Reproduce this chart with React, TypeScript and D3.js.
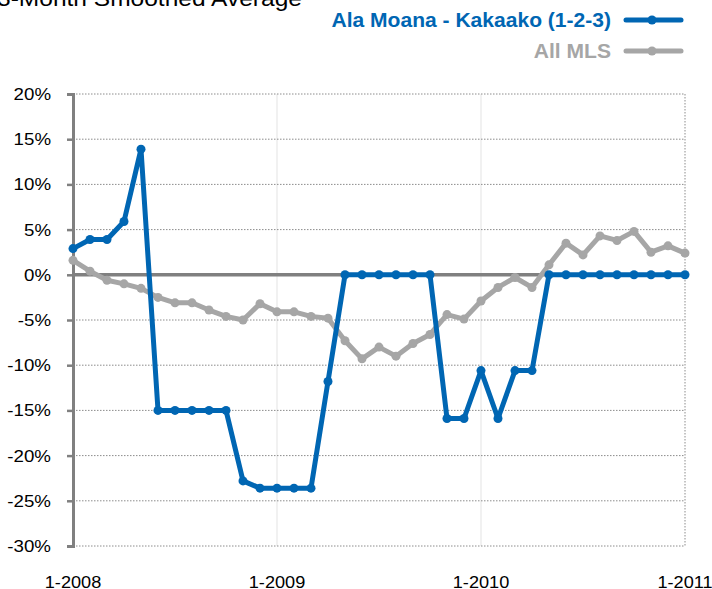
import React, { useRef, useEffect } from "react";
import * as d3 from "d3";

// monthly points, 1-2008 .. 1-2011
const months = d3.range(0, 37);
const alaMoana = [
  2.9, 3.9, 3.9, 5.9, 13.9, -15.0, -15.0, -15.0, -15.0, -15.0,
  -22.8, -23.6, -23.6, -23.6, -23.6, -11.8, 0, 0, 0, 0,
  0, 0, -15.9, -15.9, -10.6, -15.9, -10.6, -10.6, 0, 0,
  0, 0, 0, 0, 0, 0, 0,
];
const allMls = [
  1.6, 0.4, -0.6, -1.0, -1.5, -2.5, -3.1, -3.1, -3.9, -4.6,
  -5.0, -3.2, -4.1, -4.1, -4.6, -4.8, -7.3, -9.3, -8.0, -9.0,
  -7.6, -6.6, -4.4, -4.9, -2.9, -1.4, -0.3, -1.4, 1.1, 3.5,
  2.2, 4.3, 3.8, 4.8, 2.5, 3.2, 2.4,
];
const yTicks = [20, 15, 10, 5, 0, -5, -10, -15, -20, -25, -30];
const xTicks = [0, 12, 24, 36];
const xTickLabels = ["1-2008", "1-2009", "1-2010", "1-2011"];

const BLUE = "#0066b3";
const GREY = "#a6a6a6";
const AXIS = "#808080";
const FONT = "Liberation Sans, Arial, sans-serif";
const STRETCH = 1.1; // text in the original is a bit wide

const App = () => {
  const svgRef = useRef<SVGSVGElement>(null);

  useEffect(() => {
    const svg = d3.select(svgRef.current);
    svg.selectAll("*").remove();
    const width = 712;
    const height = 589;
    const margin = { top: 94, right: 27, bottom: 42, left: 73 };

    svg.attr("width", width).attr("height", height);

    const x = d3.scaleLinear().domain([0, 36]).range([margin.left, width - margin.right]);
    const y = d3.scaleLinear().domain([-30, 20]).range([height - margin.bottom - 1, margin.top]);

    // text helper, stretched horizontally around its anchor
    const addText = (tx, ty, str, size, color, anchor = "start", weight = "normal", sx = STRETCH) =>
      svg
        .append("text")
        .attr("transform", `translate(${tx},${ty}) scale(${sx},1)`)
        .attr("text-anchor", anchor)
        .style("font-family", FONT)
        .style("font-size", `${size}px`)
        .style("font-weight", weight)
        .attr("fill", color)
        .text(str);

    // title (partly cut off at top)
    addText(-3, 6, "3-Month Smoothed Average", 22.3, "#000");

    // vertical year grid
    svg
      .append("g")
      .selectAll("line")
      .data(xTicks.slice(1, 3))
      .enter()
      .append("line")
      .attr("x1", (d) => x(d))
      .attr("x2", (d) => x(d))
      .attr("y1", y(20))
      .attr("y2", y(-30))
      .attr("stroke", "#e3e3e3")
      .attr("stroke-width", 1);

    // horizontal dotted grid
    svg
      .append("g")
      .selectAll("line")
      .data(yTicks.filter((d) => d !== 0))
      .enter()
      .append("line")
      .attr("x1", x(0))
      .attr("x2", x(36))
      .attr("y1", (d) => y(d))
      .attr("y2", (d) => y(d))
      .attr("stroke", "#8c8c8c")
      .attr("stroke-width", 1)
      .attr("stroke-dasharray", "1.5,1.5");

    // right dotted border
    svg
      .append("line")
      .attr("x1", x(36))
      .attr("x2", x(36))
      .attr("y1", y(20))
      .attr("y2", y(-30))
      .attr("stroke", "#8c8c8c")
      .attr("stroke-dasharray", "1.5,1.5");

    // zero line
    svg
      .append("line")
      .attr("x1", x(0))
      .attr("x2", x(36))
      .attr("y1", y(0))
      .attr("y2", y(0))
      .attr("stroke", AXIS)
      .attr("stroke-width", 3.5);

    // y axis (lines from d3, labels drawn below)
    const yAxis = d3
      .axisLeft(y)
      .tickValues(yTicks)
      .tickSize(6)
      .tickFormat(() => "");

    const yg = svg.append("g").attr("transform", `translate(${x(0)},0)`).call(yAxis);
    yg.select(".domain").attr("stroke", AXIS).attr("stroke-width", 3);
    yg.selectAll(".tick line").attr("stroke", AXIS).attr("stroke-width", 2.5);

    yTicks.forEach((t) => addText(51, y(t) + 6, `${t}%`, 17, "#000", "end"));

    // x labels
    xTicks.forEach((t, i) => addText(x(t), 588, xTickLabels[i], 16.5, "#000", "middle"));

    const series = [
      { name: "All MLS", values: allMls, color: GREY },
      { name: "Ala Moana - Kakaako (1-2-3)", values: alaMoana, color: BLUE },
    ];

    const line = d3
      .line<number>()
      .x((d, i) => x(months[i]))
      .y((d) => y(d));

    series.forEach((s) => {
      svg
        .append("path")
        .datum(s.values)
        .attr("fill", "none")
        .attr("stroke", s.color)
        .attr("stroke-width", 5)
        .attr("stroke-linejoin", "round")
        .attr("d", line);
      svg
        .append("g")
        .selectAll("circle")
        .data(s.values)
        .enter()
        .append("circle")
        .attr("cx", (d, i) => x(months[i]))
        .attr("cy", (d) => y(d))
        .attr("r", 4.5)
        .attr("fill", s.color);
    });

    // legend
    const legend = [
      { name: "Ala Moana - Kakaako (1-2-3)", color: BLUE, cy: 20 },
      { name: "All MLS", color: GREY, cy: 51 },
    ];
    legend.forEach((l) => {
      addText(611, l.cy + 7, l.name, 19.5, l.color, "end", "bold", 1.08);
      svg
        .append("line")
        .attr("x1", 626)
        .attr("x2", 681)
        .attr("y1", l.cy)
        .attr("y2", l.cy)
        .attr("stroke", l.color)
        .attr("stroke-width", 5)
        .attr("stroke-linecap", "round");
      svg
        .append("circle")
        .attr("cx", 652)
        .attr("cy", l.cy)
        .attr("r", 4.5)
        .attr("fill", l.color);
    });
  }, []);

  return (
    <div style={{ position: "absolute", left: 0, top: 0 }}>
      <svg ref={svgRef} style={{ display: "block" }}></svg>
    </div>
  );
};

export default App;
